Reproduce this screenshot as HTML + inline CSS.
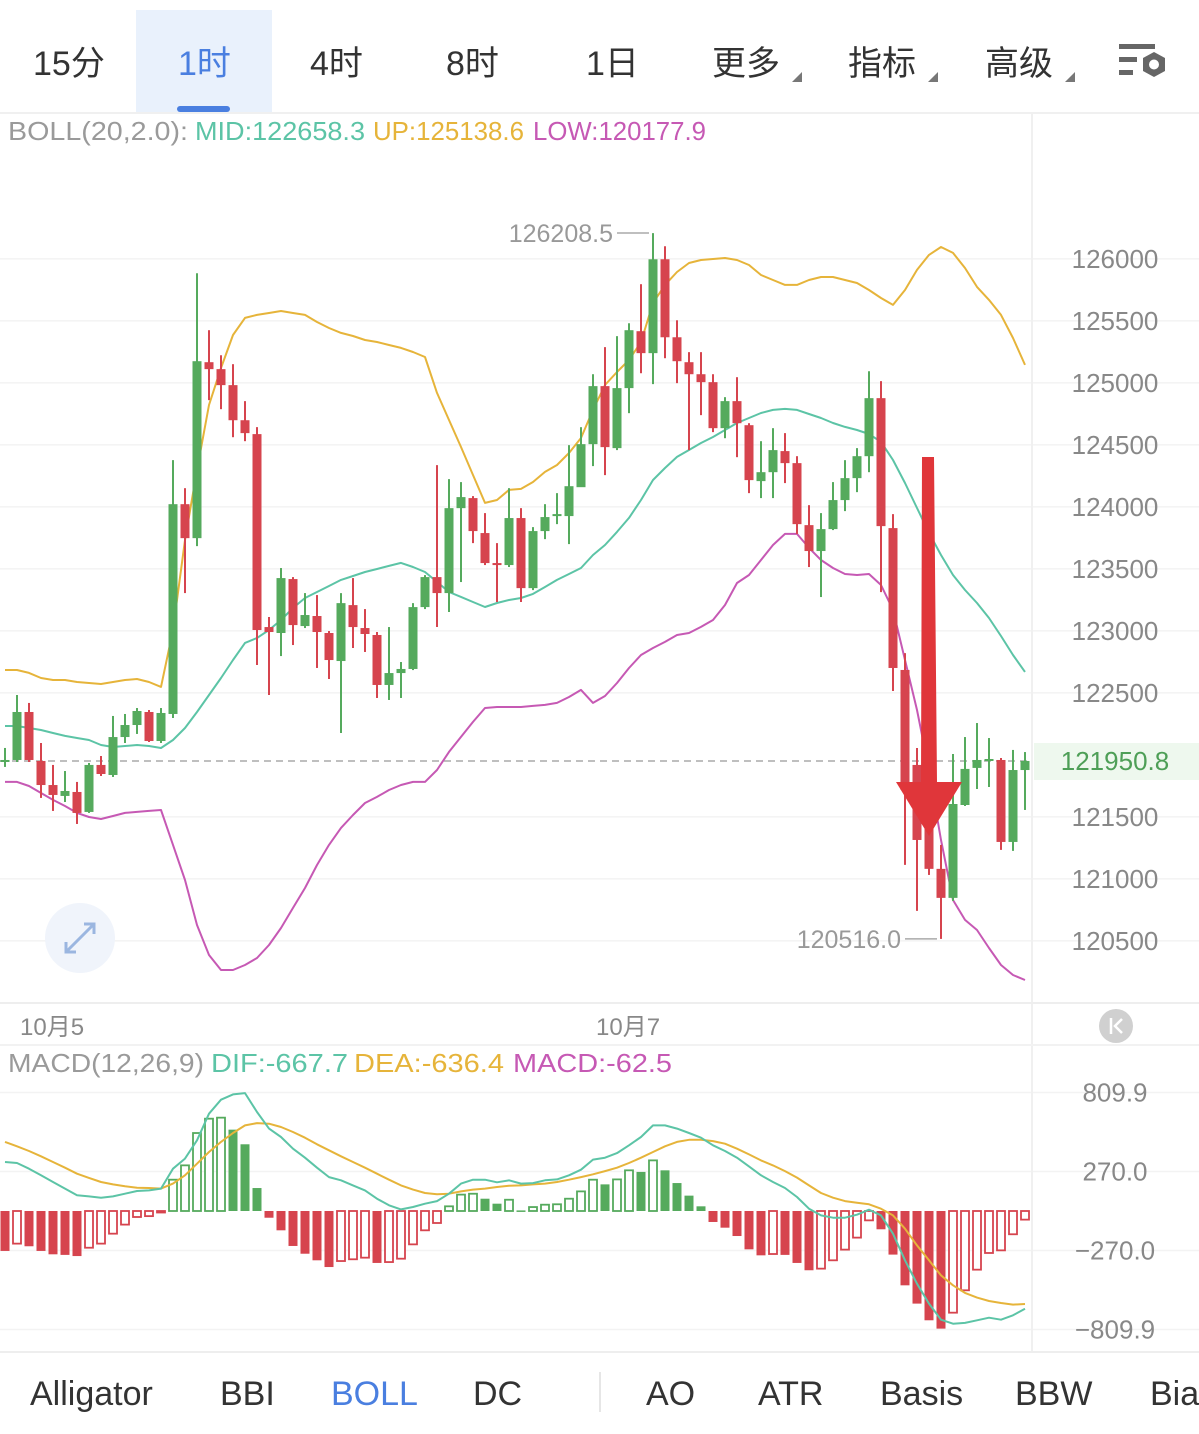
<!DOCTYPE html>
<html><head><meta charset="utf-8"><style>
html,body{margin:0;padding:0;background:#fff;}
svg{display:block;font-family:"Liberation Sans","Noto Sans CJK SC",sans-serif;}
</style></head><body>
<svg id="chart" width="1199" height="1434" viewBox="0 0 1199 1434" xmlns="http://www.w3.org/2000/svg">
<rect x="0" y="0" width="1199" height="1434" fill="#fff"/>
<g font-size="34" fill="#333">
  <rect x="136" y="10" width="136" height="102" fill="#e9f1fc"/>
  <rect x="177" y="106" width="53" height="6" rx="3" fill="#4a7fe0"/>
  <text x="33" y="75">15分</text>
  <text x="178" y="75" fill="#4a7fe0">1时</text>
  <text x="310" y="75">4时</text>
  <text x="446" y="75">8时</text>
  <text x="586" y="75">1日</text>
  <text x="712" y="75">更多</text>
  <polygon points="802,72 802,82 792,82" fill="#777"/>
  <text x="848" y="75">指标</text>
  <polygon points="938,72 938,82 928,82" fill="#777"/>
  <text x="985" y="75">高级</text>
  <polygon points="1075,72 1075,82 1065,82" fill="#777"/>
  <g fill="#666">
    <rect x="1119" y="44" width="36" height="5"/>
    <rect x="1119" y="57" width="18" height="5"/>
    <rect x="1119" y="70" width="14" height="5"/>
    <polygon points="1154,52 1165,58 1165,71 1154,77 1143,71 1143,58" fill="#666"/>
    <circle cx="1154" cy="64.5" r="5" fill="#fff"/>
  </g>
</g>
<line x1="0" y1="113" x2="1199" y2="113" stroke="#f0f0f0" stroke-width="2"/>
<text y="140" font-size="26"><tspan x="8" fill="#9a9a9a" textLength="180" lengthAdjust="spacingAndGlyphs">BOLL(20,2.0):</tspan><tspan x="195" fill="#5cc4a6" textLength="170" lengthAdjust="spacingAndGlyphs">MID:122658.3</tspan><tspan x="373" fill="#e6b43a" textLength="151" lengthAdjust="spacingAndGlyphs">UP:125138.6</tspan><tspan x="533" fill="#c659b4" textLength="173" lengthAdjust="spacingAndGlyphs">LOW:120177.9</tspan></text>
<g id="main"></g>
<g id="macd"></g>
<line x1="1032" y1="113" x2="1032" y2="1352" stroke="#f0f0f0" stroke-width="2"/>
<line x1="0" y1="1003" x2="1199" y2="1003" stroke="#eeeeee" stroke-width="2"/>
<line x1="0" y1="1045" x2="1199" y2="1045" stroke="#f2f2f2" stroke-width="2"/>
<text x="20" y="1035" font-size="24" fill="#888">10月5</text>
<text x="596" y="1035" font-size="24" fill="#888">10月7</text>
<g>
  <circle cx="1116" cy="1026" r="17" fill="#d0d0d0"/>
  <line x1="1111" y1="1018" x2="1111" y2="1034" stroke="#fff" stroke-width="2.5"/>
  <polyline points="1122,1019 1115,1026 1122,1033" fill="none" stroke="#fff" stroke-width="2.5"/>
</g>
<text y="1072" font-size="26"><tspan x="8" fill="#9a9a9a" textLength="196" lengthAdjust="spacingAndGlyphs">MACD(12,26,9)</tspan><tspan x="211" fill="#5cc4a6" textLength="137" lengthAdjust="spacingAndGlyphs">DIF:-667.7</tspan><tspan x="354" fill="#e6b43a" textLength="150" lengthAdjust="spacingAndGlyphs">DEA:-636.4</tspan><tspan x="513" fill="#c659b4" textLength="159" lengthAdjust="spacingAndGlyphs">MACD:-62.5</tspan></text>
<line x1="0" y1="1352" x2="1199" y2="1352" stroke="#eeeeee" stroke-width="2"/>
<g font-size="34" fill="#333">
  <text x="30" y="1405">Alligator</text>
  <text x="220" y="1405">BBI</text>
  <text x="331" y="1405" fill="#4a7fe0">BOLL</text>
  <text x="473" y="1405">DC</text>
  <line x1="600" y1="1372" x2="600" y2="1412" stroke="#e6e6e6" stroke-width="2"/>
  <text x="646" y="1405">AO</text>
  <text x="758" y="1405">ATR</text>
  <text x="880" y="1405">Basis</text>
  <text x="1015" y="1405">BBW</text>
  <text x="1150" y="1405">Bias</text>
</g>
<script>
// ---- main chart data (1h candles) ----
const opens = [121943,121959,122346,121951,121757,121669,121701,121540,121919,121838,122144,122241,122346,122112,122330,124022,123748,125167,125111,124982,124699,124587,123031,122983,123418,123039,123120,122983,122757,123208,123023,122967,122564,122660,122693,123192,123434,123305,123990,124071,123789,123547,123531,123910,123345,123805,123926,123926,124159,124506,124974,124474,124958,125417,125240,125997,125368,125167,125070,125006,124635,124853,124659,124208,124280,124450,124353,123853,123644,123821,124055,124232,124409,124877,123829,122685,121919,121637,121081,120847,121596,121895,121951,121959,121298,121878];
const closes = [121959,122346,121959,121757,121677,121709,121532,121919,121846,122144,122241,122354,122112,122338,124022,123748,125175,125111,124982,124699,124595,123007,122991,123426,123047,123128,122991,122765,123224,123031,122975,122564,122660,122693,123192,123434,123305,123990,124079,123805,123547,123531,123910,123345,123805,123918,123942,124167,124506,124974,124482,124958,125425,125240,125997,125368,125175,125070,125006,124635,124853,124675,124216,124280,124458,124353,123861,123644,123821,124055,124232,124409,124877,123845,122701,121717,121314,121081,120847,121604,121887,121959,121967,121298,121878,121951];
const highs = [122056,122483,122419,122096,121919,121870,121782,121935,121991,122314,122330,122378,122362,122378,124377,124151,125884,125425,125223,125151,124853,124643,123112,123507,123434,123305,123289,122999,123305,123426,123176,122991,123031,122749,123224,123450,124337,124224,124200,124087,123950,123708,124151,123990,123837,124022,124111,124498,124643,125070,125288,125377,125481,125796,126208,126102,125505,125248,125248,125070,124885,125046,124675,124530,124635,124595,124409,124014,123950,124200,124377,124474,125094,125014,123942,122821,122056,121798,121274,122007,122144,122257,122136,121975,122040,122023];
const lows = [121903,121943,121943,121653,121548,121620,121443,121532,121830,121822,122096,122169,122104,122096,122298,123305,123684,124861,124788,124562,124530,122725,122483,122797,122886,123023,122701,122612,122177,122862,122830,122459,122443,122459,122684,123176,123031,123152,123394,123708,123531,123233,123515,123233,123329,123740,123861,123700,124175,124329,124256,124458,124756,125078,124990,125199,124998,124458,124740,124603,124554,124401,124111,124071,124071,124192,123781,123515,123273,123813,123966,124119,124280,123313,122515,121113,120742,121032,120516,120823,121588,121725,121741,121234,121226,121556];
const bollUp = [122685,122685,122661,122620,122604,122604,122588,122580,122572,122588,122604,122612,122588,122548,123007,123733,124298,124822,125120,125386,125524,125548,125564,125580,125564,125548,125491,125443,125403,125378,125346,125330,125306,125282,125249,125209,124919,124701,124483,124257,124032,124056,124137,124145,124201,124282,124338,124435,124556,124782,124983,125088,125185,125330,125644,125790,125894,125967,125991,125999,126007,125991,125951,125870,125830,125790,125790,125830,125854,125854,125830,125806,125749,125685,125629,125749,125911,126032,126096,126048,125927,125774,125669,125548,125362,125145];
const bollMid = [122233,122233,122217,122201,122177,122153,122136,122120,122080,122064,122072,122080,122072,122056,122120,122217,122346,122483,122620,122765,122903,122943,123007,123088,123185,123265,123314,123362,123411,123443,123475,123499,123524,123548,123515,123475,123395,123314,123274,123233,123193,123225,123249,123265,123298,123354,123411,123459,123507,123612,123693,123798,123911,124056,124217,124314,124403,124459,124515,124564,124620,124677,124717,124757,124782,124790,124782,124749,124717,124677,124645,124620,124588,124524,124378,124193,123991,123790,123612,123451,123330,123225,123104,122959,122806,122669];
const bollLow = [121782,121782,121749,121693,121637,121588,121532,121499,121483,121507,121532,121540,121548,121556,121274,120991,120628,120386,120265,120265,120306,120362,120467,120604,120766,120927,121112,121274,121411,121515,121612,121661,121717,121757,121782,121782,121878,122024,122145,122266,122378,122386,122386,122386,122395,122403,122419,122467,122524,122419,122475,122580,122701,122806,122862,122911,122967,122983,123032,123088,123209,123386,123451,123572,123693,123782,123782,123669,123572,123507,123459,123451,123459,123370,123169,122765,122362,121878,121314,120830,120669,120588,120443,120306,120225,120185];
const priceTicks = [126000,125500,125000,124500,124000,123500,123000,122500,121500,121000,120500];
const lastPrice = 121950.8;
const highMark = 126208.5, lowMark = 120516.0;
// ---- MACD data ----
const dif = [335,328,289,244,198,153,107,100,91,100,118,137,141,153,289,358,483,665,761,797,806,677,563,506,426,364,296,232,210,175,141,84,39,11,27,50,68,118,187,214,214,196,210,187,191,210,216,244,282,351,364,396,449,506,585,585,563,533,501,449,410,364,305,244,198,157,96,16,-30,-46,-46,-25,9,-30,-155,-337,-497,-633,-743,-770,-765,-747,-729,-743,-713,-668];
const dea = [472,442,410,374,335,296,255,226,198,182,169,159,157,153,187,244,323,403,472,533,585,601,597,574,540,501,456,415,374,335,296,255,214,175,146,123,114,118,134,146,153,164,173,175,182,187,198,214,232,251,273,296,328,364,403,442,472,487,487,478,460,426,387,346,312,273,228,175,123,91,68,57,46,16,-30,-121,-235,-337,-440,-508,-560,-592,-615,-629,-640,-636];
const hist = [-273,-223,-241,-273,-296,-300,-308,-251,-223,-155,-93,-41,-35,-3,214,312,533,631,638,556,456,157,-46,-132,-239,-292,-337,-383,-342,-330,-319,-355,-349,-326,-228,-132,-82,32,112,118,84,50,77,4,27,43,46,84,134,214,182,216,278,267,346,278,191,105,32,-75,-114,-171,-262,-303,-294,-300,-355,-405,-394,-337,-264,-182,-64,-125,-298,-508,-633,-747,-804,-695,-542,-401,-287,-269,-159,-59];
const macdTicks = [809.9,270.0,-270.0,-809.9];

const NS = "http://www.w3.org/2000/svg";
const GREEN = "#55aa5d", RED = "#d6444e";
function mk(tag, attrs, parent){ const e=document.createElementNS(NS,tag); for(const k in attrs) e.setAttribute(k,attrs[k]); parent.appendChild(e); return e; }
const xOf = i => 5 + 12 * i;
const yP = v => 761 - (v - 121950.8) * 0.124;
const yM = v => 1211 - v * 0.1463;

const main = document.getElementById('main');
const macd = document.getElementById('macd');

priceTicks.forEach(t => {
  const gl = mk('line',{x1:0,x2:1199,y1:yP(t),y2:yP(t),stroke:'#f3f3f3','stroke-width':1.5},main);
  
  
  const tx = mk('text',{x:1115,y:yP(t)+9,'font-size':26,fill:'#888','text-anchor':'middle'},main);
  tx.textContent = String(t);
  
  
});
const band = mk('rect',{x:1034,y:yP(lastPrice)-18,width:165,height:37,fill:'#eef8ee'},main);


const lpt = mk('text',{x:1115,y:yP(lastPrice)+9,'font-size':26,fill:'#4e9f57','text-anchor':'middle'},main);
lpt.textContent = lastPrice.toFixed(1);


const lpl = mk('line',{x1:0,x2:1032,y1:yP(lastPrice),y2:yP(lastPrice),stroke:'#aaa','stroke-width':1.5,'stroke-dasharray':'7,5'},main);



const exp = mk('g',{},main);


mk('circle',{cx:80,cy:938,r:35,fill:'#f0f4fb'},exp);
mk('path',{d:'M66 952 L94 924 M84 924 L94 924 L94 934 M66 942 L66 952 L76 952',fill:'none',stroke:'#9bb6e0','stroke-width':3},exp);

function polyline(arr, ys, color, name, parent, w){
  const pts = arr.map((v,i)=>xOf(i)+','+ys(v).toFixed(1)).join(' ');
  const p = mk('polyline',{points:pts,fill:'none',stroke:color,'stroke-width':w||2,'stroke-linejoin':'round'},parent);
  
  
}
polyline(bollUp, yP, '#e6b43a', 'boll-upper-line', main);
polyline(bollMid, yP, '#5cc4a6', 'boll-mid-line', main);
polyline(bollLow, yP, '#c659b4', 'boll-lower-line', main);

opens.forEach((o,i)=>{
  const c = closes[i], up = c >= o, col = up ? GREEN : RED;
  const g = mk('g',{},main);
  
  
  const x = xOf(i);
  mk('line',{x1:x,x2:x,y1:yP(highs[i]),y2:yP(lows[i]),stroke:col,'stroke-width':2},g);
  const top = yP(Math.max(o,c)), bot = yP(Math.min(o,c));
  mk('rect',{x:x-4.5,y:top,width:9,height:Math.max(bot-top,2),fill:col},g);
});

const iH = highs.indexOf(Math.max(...highs)), iL = lows.indexOf(Math.min(...lows));
const hm = mk('g',{},main);


mk('line',{x1:xOf(iH)-36,x2:xOf(iH)-4,y1:yP(highMark),y2:yP(highMark),stroke:'#aaa','stroke-width':1.5},hm);
const hmt = mk('text',{x:xOf(iH)-40,y:yP(highMark)+9,'font-size':25,fill:'#999','text-anchor':'end'},hm);
hmt.textContent = highMark.toFixed(1);
const lm = mk('g',{},main);


mk('line',{x1:xOf(iL)-36,x2:xOf(iL)-4,y1:yP(lowMark),y2:yP(lowMark),stroke:'#aaa','stroke-width':1.5},lm);
const lmt = mk('text',{x:xOf(iL)-40,y:yP(lowMark)+9,'font-size':25,fill:'#999','text-anchor':'end'},lm);
lmt.textContent = lowMark.toFixed(1);

const arr = mk('polygon',{points:'922,457 934,457 937,782 962,782 929,836 896,782 921,782',fill:'#e0363a'},main);



macdTicks.forEach(t=>{
  const gl = mk('line',{x1:0,x2:1199,y1:yM(t),y2:yM(t),stroke:'#f3f3f3','stroke-width':1.5},macd);
  
  
  const tx = mk('text',{x:1115,y:yM(t)+9,'font-size':26,fill:'#888','text-anchor':'middle'},macd);
  tx.textContent = (t<0?'\u2212':'') + Math.abs(t).toFixed(1);
  
  
});
hist.forEach((v,i)=>{
  const prev = i>0 ? hist[i-1] : v;
  const hollow = v > prev;
  const col = v >= 0 ? GREEN : RED;
  const y0 = yM(0), y1 = yM(v);
  const top = Math.min(y0,y1), h = Math.max(Math.abs(y1-y0),1.5);
  const r = hollow
    ? mk('rect',{x:xOf(i)-4,y:top,width:8,height:h,fill:'#fff',stroke:col,'stroke-width':1.8},macd)
    : mk('rect',{x:xOf(i)-4.5,y:top,width:9,height:h,fill:col},macd);
  
  
});
polyline(dea, yM, '#e6b43a', 'dea-line', macd);
polyline(dif, yM, '#5cc4a6', 'dif-line', macd);
</script>
</svg>
</body></html>
